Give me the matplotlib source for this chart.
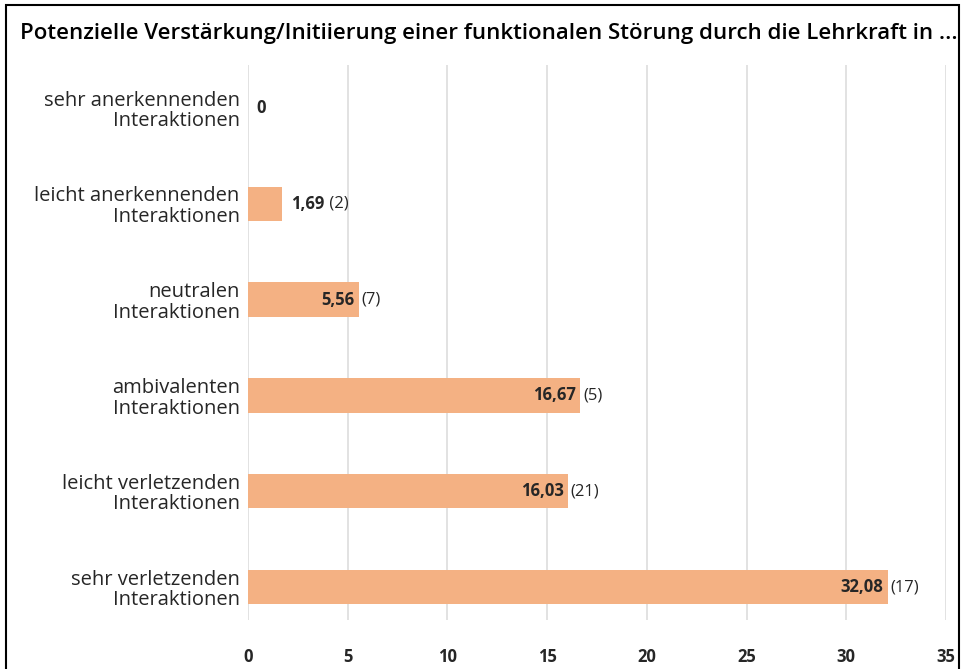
import matplotlib.pyplot as plt
from matplotlib.patches import Rectangle

categories = ['sehr anerkennenden\nInteraktionen', 'leicht anerkennenden\nInteraktionen',
              'neutralen\nInteraktionen', 'ambivalenten\nInteraktionen',
              'leicht verletzenden\nInteraktionen', 'sehr verletzenden\nInteraktionen']
values = [0, 1.69, 5.56, 16.67, 16.03, 32.08]
counts = [None, 2, 7, 5, 21, 17]
xticks = [0, 5, 10, 15, 20, 25, 30, 35]

plt.rcParams['font.family'] = ['Open Sans', 'DejaVu Sans']
txt = '#262626'

fig = plt.figure(figsize=(9.63, 6.69), dpi=100)
ax = fig.add_axes([248 / 963, 1 - 620 / 669, 698 / 963, 555 / 669])

y = list(range(len(categories)))
ax.barh(y, values, height=0.36, color='#F4B183')
ax.set_ylim(5.344, -0.449)
ax.set_xlim(0, 35)
ax.set_xticks(xticks)
ax.set_xticklabels([str(t) for t in xticks], fontweight='bold', fontsize=12, color=txt)
ax.set_yticks(y)
ax.set_yticklabels(categories, fontsize=14.5, color=txt, linespacing=1.05)
ax.tick_params(axis='both', length=0)
ax.tick_params(axis='x', pad=20)
ax.tick_params(axis='y', pad=6)
ax.grid(axis='x', color='#DDDDDD', linewidth=1.2)
ax.set_axisbelow(True)
for s in ax.spines.values():
    s.set_visible(False)

fs = 12
for i, (v, c) in enumerate(zip(values, counts)):
    if c is None:
        ax.annotate('0', (v, i), xytext=(6, 0), textcoords='offset points', va='center', ha='left',
                    fontsize=fs, fontweight='bold', color=txt)
        continue
    lab = f'{v:.2f}'.replace('.', ',')
    if v < 4:
        t = ax.annotate(lab, (v, i), xytext=(7, 0), textcoords='offset points', va='center', ha='left',
                        fontsize=fs, fontweight='bold', color=txt)
        ax.annotate(' (%d)' % c, xy=(1, 0.5), xycoords=t, va='center', ha='left', fontsize=fs, color=txt)
    else:
        ax.annotate(lab, (v, i), xytext=(-3, 0), textcoords='offset points', va='center', ha='right',
                    fontsize=fs, fontweight='bold', color=txt)
        ax.annotate('(%d)' % c, (v, i), xytext=(2, 0), textcoords='offset points', va='center', ha='left',
                    fontsize=fs, color=txt)

fig.text(20 / 963, 1 - 33 / 669, 'Potenzielle Verstärkung/Initiierung einer funktionalen Störung durch die Lehrkraft in ...',
         fontsize=16, fontweight='semibold', color='black', va='center', ha='left')

fig.patches.append(Rectangle((6 / 963, -0.1), 953 / 963, 1.1 - 5 / 669, transform=fig.transFigure,
                             fill=False, edgecolor='black', linewidth=1.5))

fig.savefig('out.png', dpi=100)
